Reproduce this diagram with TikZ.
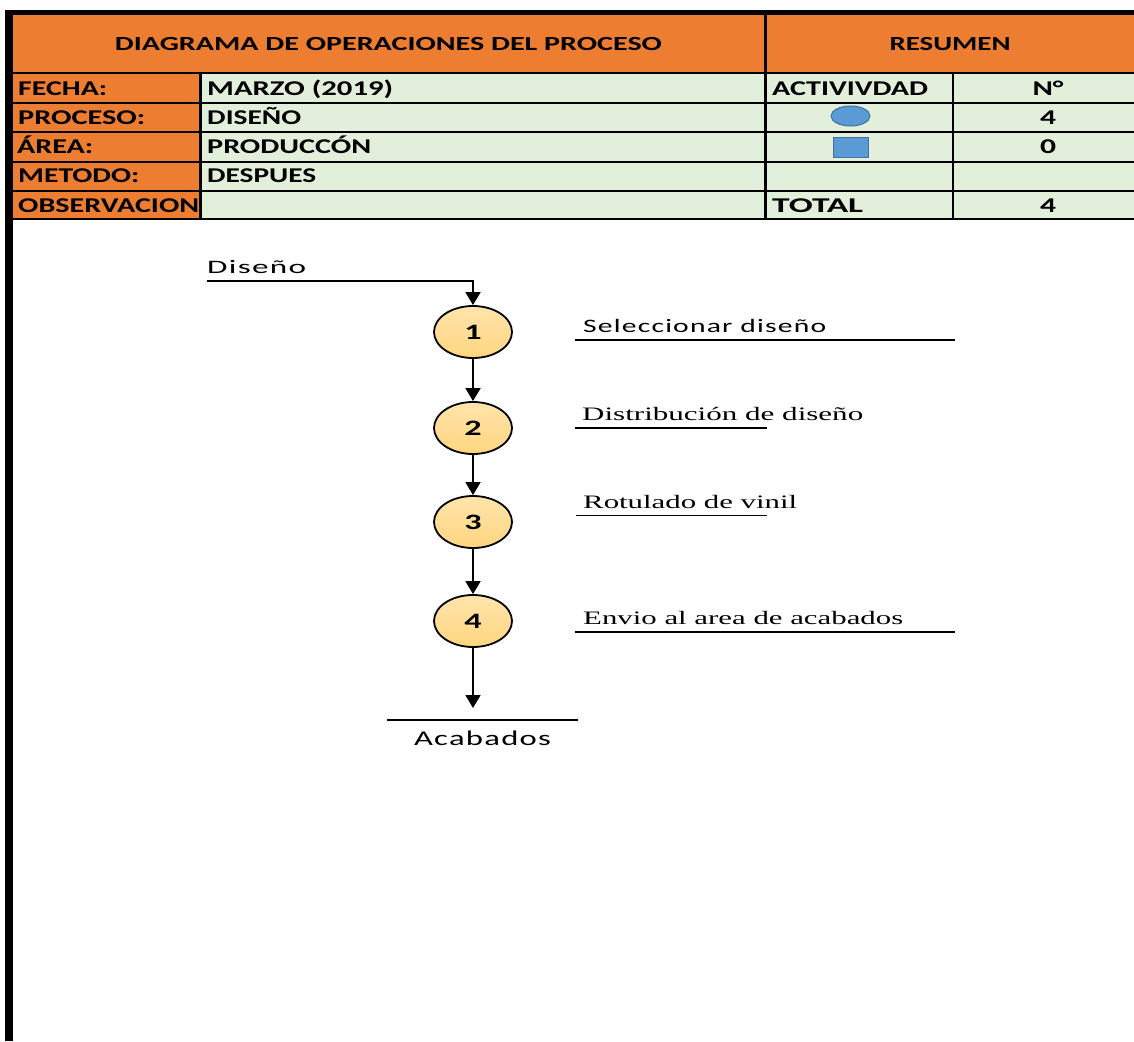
\documentclass[tikz,border=0pt]{standalone}
\usepackage{fontspec}
\usepackage{graphicx}
\setmainfont{Liberation Serif}
\newfontfamily\calfnt{Carlito}
\newfontfamily\calsp{Carlito}[LetterSpace=4]
\usetikzlibrary{shapes.geometric,arrows.meta}
\definecolor{hdrorange}{HTML}{ED7D31}
\definecolor{cellgreen}{HTML}{E2EFDA}
\definecolor{opfill}{HTML}{FFD67F}
\definecolor{opfilltop}{HTML}{FFE4AC}
\definecolor{symblue}{HTML}{5B9BD5}
\definecolor{symedge}{HTML}{41719C}
% stretch a piece of text to a given width, keeping its height
\newcommand\fitw[2]{\resizebox{#1}{\height}{#2}}

\begin{document}
\begin{tikzpicture}[x=1pt,y=-1pt,
  hdr/.style={font=\calfnt\bfseries\fontsize{20}{20}\selectfont, inner sep=0pt, anchor=base},
  cell/.style={font=\calfnt\bfseries\fontsize{21}{21}\selectfont, inner sep=0pt, anchor=base west},
  num/.style={font=\calfnt\bfseries\fontsize{21}{21}\selectfont, inner sep=0pt, anchor=base},
  gridline/.style={line width=2pt},
  op/.style={ellipse, draw, line width=1.8pt, minimum width=78pt, minimum height=52pt,
    inner sep=0pt, top color=opfilltop, bottom color=opfill,
    font=\calfnt\bfseries\fontsize{22}{22}\selectfont},
  flow/.style={line width=1.8pt, -{Triangle[width=15pt,length=13pt]}},
  lbl/.style={font=\fontsize{19}{19}\selectfont, inner sep=0pt, anchor=base west},
  slbl/.style={font=\calsp\fontsize{19}{19}\selectfont, inner sep=0pt, anchor=base west},
  rule/.style={line width=1.6pt}]

\useasboundingbox (0,0) rectangle (1134,1041);
\fill[white] (0,0) rectangle (1134,1041);

% header and table backgrounds
\fill[hdrorange] (12,15) rectangle (1134,73);
\fill[hdrorange] (12,73) rectangle (200,219);
\fill[cellgreen] (200,73) rectangle (1134,219);

% table rules
\foreach \yy in {73,102.5,132,161.5,190.5,219}
  \draw[gridline] (12,\yy) -- (1134,\yy);
\draw[line width=3pt] (200,73) -- (200,220);
\draw[line width=3pt] (765,15) -- (765,220);
\draw[line width=2.5pt] (953,73) -- (953,220);

% outer frame
\fill[black] (5,10) rectangle (1134,15);
\fill[black] (5,10) rectangle (12.5,1041);

% header texts
\node[hdr] (title) at (388.5,50.7) {\fitw{547pt}{DIAGRAMA DE OPERACIONES DEL PROCESO}};
\node[hdr] (resumen) at (950,50.7) {\fitw{121pt}{RESUMEN}};

% left column
\node[cell] (fecha) at (18,95) {\fitw{89pt}{FECHA:}};
\node[cell] (proceso) at (18,124.5) {\fitw{127pt}{PROCESO:}};
\node[cell] (area) at (17,153.5) {\fitw{76pt}{ÁREA:}};
\node[cell] (metodo) at (18,182.5) {\fitw{121pt}{METODO:}};
\node[cell] (obs) at (18,212) {\fitw{181pt}{OBSERVACION}};

% values
\node[cell] (fechav) at (207,95) {\fitw{186pt}{MARZO (2019)}};
\node[cell] (procesov) at (207,124.5) {\fitw{94pt}{DISEÑO}};
\node[cell] (areav) at (207,153.5) {\fitw{164pt}{PRODUCCÓN}};
\node[cell] (metodov) at (207,182.5) {\fitw{109pt}{DESPUES}};

% summary
\node[cell] (activ) at (772,95) {\fitw{156pt}{ACTIVIVDAD}};
\node[num] (nhead) at (1048,95) {\fitw{31pt}{N°}};
\node[ellipse, draw=symedge, fill=symblue, line width=1pt, minimum width=39pt,
  minimum height=20pt, inner sep=0pt] (symop) at (850.5,116) {};
\node[num] (nop) at (1048,124.5) {\fitw{16pt}{4}};
\node[rectangle, draw=symedge, fill=symblue, line width=1pt, minimum width=35pt,
  minimum height=20pt, inner sep=0pt] (symins) at (850.5,147) {};
\node[num] (nins) at (1048,153.5) {\fitw{16pt}{0}};
\node[cell] (total) at (772,212) {\fitw{91pt}{TOTAL}};
\node[num] (ntotal) at (1048,212) {\fitw{16pt}{4}};

% process flow
\node[slbl] (inlbl) at (207,273.3) {\fitw{99pt}{Diseño}};
\coordinate (inS) at (207,281);
\node[op] (c1) at (473,332) {\raisebox{-1pt}{\scalebox{1.55}[1]{1}}};
\node[op] (c2) at (473,428) {\raisebox{-1pt}{\scalebox{1.55}[1]{2}}};
\node[op] (c3) at (473,522) {\raisebox{-1pt}{\scalebox{1.55}[1]{3}}};
\node[op] (c4) at (473,621) {\raisebox{-1pt}{\scalebox{1.55}[1]{4}}};
\coordinate (outE) at (473,708);

\draw[flow] (inS) -| (c1.north);
\draw[flow] (c1) -- (c2);
\draw[flow] (c2) -- (c3);
\draw[flow] (c3) -- (c4);
\draw[flow] (c4) -- (outE);

\draw[rule] (387,720) -- (578,720);
\node[slbl, font=\calsp\fontsize{21}{21}\selectfont, anchor=base] (outlbl) at (482.5,745) {\fitw{137pt}{Acabados}};

% operation descriptions
\node[slbl] (l1) at (583,332) {\fitw{243pt}{Seleccionar diseño}};
\draw[rule] (575,340) -- (955,340);
\node[lbl] (l2) at (582,420.7) {\fitw{281pt}{Distribución de diseño}};
\draw[rule] (575,428) -- (767,428);
\node[lbl] (l3) at (583,508.3) {\fitw{214pt}{Rotulado de vinil}};
\draw[rule] (576,515.5) -- (767,515.5);
\node[lbl] (l4) at (583,624) {\fitw{320pt}{Envio al area de acabados}};
\draw[rule] (575,632) -- (955,632);

\end{tikzpicture}
\end{document}
